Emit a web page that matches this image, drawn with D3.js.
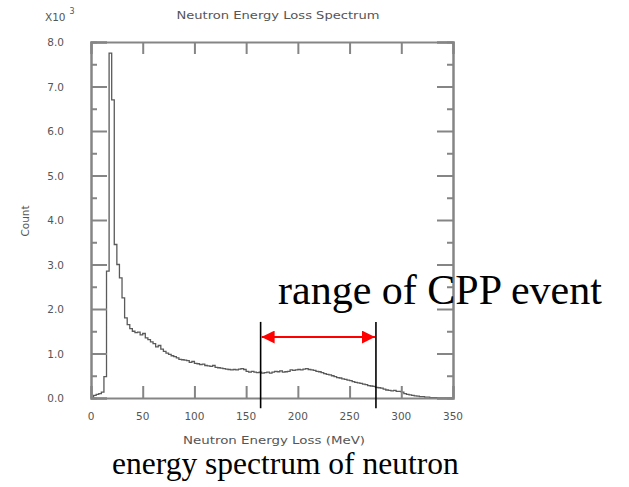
<!DOCTYPE html>
<html>
<head>
<meta charset="utf-8">
<script src="https://cdn.jsdelivr.net/npm/d3@7/dist/d3.min.js"></script>
<style>
  html, body { margin: 0; padding: 0; background: #fff; }
  svg { display: block; }
</style>
</head>
<body>
<svg id="chart" width="629" height="487"></svg>
<script>
// ---------------- data ----------------
const binWidth = 2.5; // MeV
// counts per bin, in units of 10^3
const counts = [
  0.01, 0.06, 0.08, 0.10, 0.13, 0.48, 2.85, 7.75, 6.70, 3.45,
  3.00, 2.70, 2.25, 1.80, 1.65, 1.56, 1.50, 1.47, 1.48, 1.42,
  1.45, 1.35, 1.31, 1.26, 1.22, 1.15, 1.18, 1.10, 1.05, 1.01,
  0.98, 0.95, 0.93, 0.90, 0.87, 0.86, 0.85, 0.84, 0.80, 0.82,
  0.78, 0.77, 0.75, 0.76, 0.73, 0.72, 0.71, 0.73, 0.69, 0.68,
  0.67, 0.66, 0.65, 0.64, 0.63, 0.64, 0.63, 0.65, 0.66, 0.64,
  0.60, 0.58, 0.60, 0.58, 0.57, 0.58, 0.56, 0.57, 0.58, 0.56,
  0.58, 0.60, 0.59, 0.61, 0.58, 0.59, 0.60, 0.63, 0.62, 0.63,
  0.64, 0.63, 0.65, 0.66, 0.64, 0.63, 0.62, 0.60, 0.59, 0.57,
  0.55, 0.53, 0.52, 0.50, 0.48, 0.46, 0.45, 0.43, 0.42, 0.40,
  0.39, 0.37, 0.35, 0.34, 0.33, 0.31, 0.30, 0.28, 0.27, 0.26,
  0.24, 0.23, 0.22, 0.20, 0.18, 0.17, 0.16, 0.17, 0.15, 0.15,
  0.13, 0.10, 0.08, 0.07, 0.06, 0.05, 0.04, 0.03, 0.03, 0.02,
  0.02, 0.01, 0.01, 0.01, 0.00, 0.00, 0.00, 0.00, 0.00, 0.00
];
const xTicks = [0, 50, 100, 150, 200, 250, 300, 350];
const xTickLabels = ["0", "50", "100", "150", "200", "250", "300", "350"];
const yTicks = [0, 1, 2, 3, 4, 5, 6, 7, 8];
const yTickLabels = ["0.0", "1.0", "2.0", "3.0", "4.0", "5.0", "6.0", "7.0", "8.0"];
const yMinorTicks = [0.5, 1.5, 2.5, 3.5, 4.5, 5.5, 6.5, 7.5];
const cppRange = [164, 275.5];      // MeV
const titleText = "Neutron Energy Loss Spectrum";
const xTitle = "Neutron Energy Loss (MeV)";
const yTitle = "Count";
const annotation = "range of CPP event";
const caption = "energy spectrum of neutron";

// ---------------- layout ----------------
const svg = d3.select("#chart");
const L = 91, R = 453, T = 42, B = 398;
const x = d3.scaleLinear().domain([0, 350]).range([L, R]);
const y = d3.scaleLinear().domain([0, 8]).range([B, T]);

const axisColor = "#858585";
const textColor = "#555";
const sans = "'DejaVu Sans', 'Noto Sans', sans-serif";
const serif = "'Liberation Serif', 'Times New Roman', serif";

// data step line (drawn first, frame on top)
const pts = counts.map((c, i) => [i * binWidth, c]);
pts.push([counts.length * binWidth, counts[counts.length - 1]]);
svg.append("path")
  .datum(pts)
  .attr("fill", "none")
  .attr("stroke", "#5a5a5a")
  .attr("stroke-width", 1.3)
  .attr("d", d3.line().x(d => x(d[0])).y(d => y(d[1])).curve(d3.curveStepAfter));

// axes via d3 axis generators
const gB = svg.append("g").attr("transform", `translate(0,${B})`)
  .call(d3.axisTop(x).tickValues(xTicks).tickSize(12).tickFormat(""));
const gT = svg.append("g").attr("transform", `translate(0,${T})`)
  .call(d3.axisBottom(x).tickValues(xTicks).tickSize(12).tickFormat(""));
const gL = svg.append("g").attr("transform", `translate(${L},0)`)
  .call(d3.axisRight(y).tickValues(yTicks).tickSize(16).tickFormat(""));
const gLm = svg.append("g").attr("transform", `translate(${L},0)`)
  .call(d3.axisRight(y).tickValues(yMinorTicks).tickSize(6).tickFormat(""));
const gR = svg.append("g").attr("transform", `translate(${R},0)`)
  .call(d3.axisLeft(y).tickValues(yTicks).tickSize(16).tickFormat(""));
const gRm = svg.append("g").attr("transform", `translate(${R},0)`)
  .call(d3.axisLeft(y).tickValues(yMinorTicks).tickSize(6).tickFormat(""));
[gB, gT, gL, gLm, gR, gRm].forEach(g => {
  g.selectAll(".domain").attr("stroke", axisColor).attr("stroke-width", 2);
  g.selectAll(".tick line").attr("stroke", axisColor).attr("stroke-width", 2);
});

// tick labels
svg.append("g").selectAll("text").data(xTicks).join("text")
  .attr("x", d => x(d)).attr("y", 420)
  .attr("text-anchor", "middle")
  .attr("font-family", sans).attr("font-size", 10.5)
  .attr("fill", textColor)
  .text((d, i) => xTickLabels[i]);
svg.append("g").selectAll("text").data(yTicks).join("text")
  .attr("x", 64).attr("y", d => y(d) + 4)
  .attr("text-anchor", "end")
  .attr("font-family", sans).attr("font-size", 10.5)
  .attr("fill", textColor)
  .text((d, i) => yTickLabels[i]);

// multiplier label
const mult = svg.append("text")
  .attr("x", 45).attr("y", 21)
  .attr("font-family", sans).attr("font-size", 10.5)
  .attr("fill", textColor);
mult.append("tspan").text("X10");
mult.append("tspan").attr("dx", 4).attr("dy", -7).attr("font-size", 8).text("3");

// title
svg.append("text")
  .attr("x", 278).attr("y", 19)
  .attr("text-anchor", "middle")
  .attr("font-family", sans).attr("font-size", 11)
  .attr("fill", textColor)
  .attr("textLength", 203).attr("lengthAdjust", "spacingAndGlyphs")
  .text(titleText);

// axis titles
svg.append("text")
  .attr("x", 274).attr("y", 444)
  .attr("text-anchor", "middle")
  .attr("font-family", sans).attr("font-size", 10.5)
  .attr("fill", textColor)
  .attr("textLength", 182).attr("lengthAdjust", "spacingAndGlyphs")
  .text(xTitle);
svg.append("text")
  .attr("transform", "translate(29,221) rotate(-90)")
  .attr("text-anchor", "middle")
  .attr("font-family", sans).attr("font-size", 10.5)
  .attr("fill", textColor)
  .text(yTitle);

// CPP range annotation
cppRange.forEach(v => {
  svg.append("line")
    .attr("x1", x(v)).attr("x2", x(v))
    .attr("y1", y(1.71)).attr("y2", y(-0.23))
    .attr("stroke", "#000").attr("stroke-width", 1.6);
});
const defs = svg.append("defs");
defs.append("marker")
  .attr("id", "ah").attr("viewBox", "0 0 13 13")
  .attr("refX", 13).attr("refY", 6.5)
  .attr("markerWidth", 13).attr("markerHeight", 13)
  .attr("markerUnits", "userSpaceOnUse")
  .attr("orient", "auto-start-reverse")
  .append("path").attr("d", "M0,0 L13,6.5 L0,13 Z").attr("fill", "#ff0000");
svg.append("line")
  .attr("x1", x(cppRange[0]) + 1).attr("x2", x(cppRange[1]) - 1)
  .attr("y1", y(1.37)).attr("y2", y(1.37))
  .attr("stroke", "#ff0000").attr("stroke-width", 2)
  .attr("marker-start", "url(#ah)").attr("marker-end", "url(#ah)");

svg.append("text")
  .attr("x", 278).attr("y", 304)
  .attr("font-family", serif).attr("font-size", 42)
  .attr("fill", "#000")
  .text(annotation);

svg.append("text")
  .attr("x", 112).attr("y", 474)
  .attr("font-family", serif).attr("font-size", 31.5)
  .attr("fill", "#000")
  .text(caption);
</script>
</body>
</html>
